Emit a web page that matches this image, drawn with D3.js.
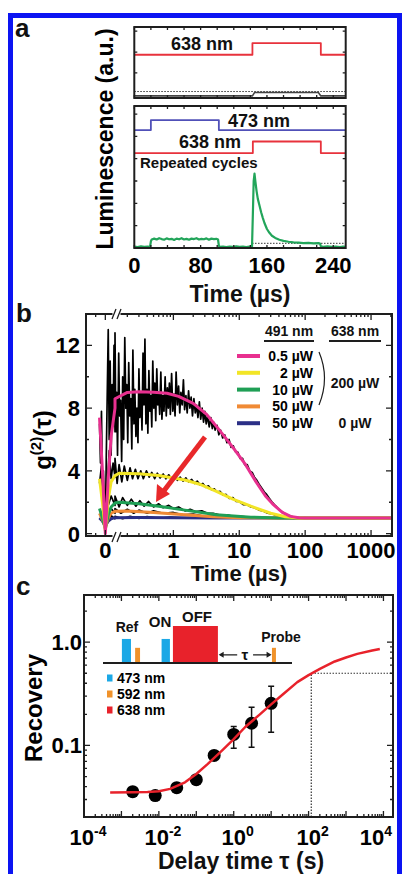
<!DOCTYPE html>
<html>
<head>
<meta charset="utf-8">
<script src="https://cdn.jsdelivr.net/npm/d3@7"></script>
<style>
body { margin: 0; background: #fff; }
svg { display: block; font-family: "Liberation Sans", Arial, sans-serif; font-weight: bold; }
</style>
</head>
<body>
<div id="chart"></div>
<script>
// ---------- panel a : luminescence vs time (us) ----------
var aTimeTicks = [0, 80, 160, 240];
var a1Laser638 = [[0, 1.87], [142.5, 1.87], [142.5, 2.43], [225, 2.43], [225, 1.87], [255, 1.87]];
var a1Signal = [[0, -0.1], [142.5, -0.1], [145, 0.06], [222, 0.06], [225, -0.1], [255, -0.1]];
var a1Level = [[0, 0.11], [255, 0.11]];
var a2Laser473 = [[0, 5.28], [20, 5.28], [20, 5.73], [102, 5.73], [102, 5.28], [255, 5.28]];
var a2Laser638 = [[0, 4.25], [143, 4.25], [143, 4.77], [225, 4.77], [225, 4.25], [255, 4.25]];
var a2Signal = [[0,0.06],[4,0.04],[8,0.07],[12,0.05],[16,0.06],[19,0.05],[20,0.3],[21,0.38],[24,0.42],[27,0.38],
  [30,0.44],[33,0.4],[36,0.37],[39,0.43],[42,0.39],[45,0.41],[48,0.36],[51,0.42],[54,0.39],[57,0.44],[60,0.38],
  [63,0.41],[66,0.37],[69,0.42],[72,0.4],[75,0.44],[78,0.38],[81,0.41],[84,0.39],[87,0.43],[90,0.37],[93,0.42],
  [96,0.4],[99,0.41],[101,0.38],[102,0.1],[103,0.05],[107,0.06],[111,0.04],[115,0.06],[119,0.05],[123,0.07],
  [127,0.05],[131,0.06],[135,0.04],[139,0.06],[142,0.06],[143,1.5],[144,3.0],[145,3.33],[146,3.0],[147.5,2.55],
  [149,2.2],[151,1.9],[153,1.6],[155,1.35],[157,1.12],[160,0.85],[163,0.68],[166,0.55],[170,0.45],[175,0.37],
  [180,0.32],[186,0.28],[192,0.25],[198,0.24],[204,0.22],[210,0.23],[216,0.21],[222,0.22],[224,0.2],[225,0.08],
  [228,0.05],[233,0.07],[238,0.05],[243,0.06],[248,0.04],[252,0.06],[255,0.05]];
var a2Level = [[142, 0.21], [255, 0.21]];

// ---------- panel b : g2(tau) ----------
var bTimeTicks = [0, 1, 10, 100, 1000];
var bYTicks = [0, 4, 8, 12];
var bPowers = ["0.5 µW", "2 µW", "10 µW", "50 µW", "50 µW"];
var bColors = ["#e8308f", "#f2e526", "#1f9f55", "#f08a35", "#2b2f86"];
var bRaw05 = [[-0.06,7.0],[-0.05,4.5],[-0.04,7.8],[-0.03,3.0],[-0.02,4.0],[-0.01,1.5],[0,0.2],[0.01,5.0],
  [0.02,9.0],[0.03,13.0],[0.04,6.0],[0.05,11.0],[0.06,5.0],[0.07,9.5],[0.08,7.0],[0.09,12.0],[0.1,6.5],
  [0.13,12.8],[0.134,6.5],[0.138,9.0],[0.142,5.0],[0.148,11.5],[0.153,7.5],[0.158,8.5],[0.164,4.6],[0.17,10.0],
  [0.176,6.0],[0.183,12.5],[0.19,8.0],[0.196,9.5],[0.203,5.8],[0.21,10.9],[0.218,7.5],[0.226,8.6],[0.234,5.4],
  [0.243,11.7],[0.252,7.0],[0.26,9.2],[0.27,6.2],[0.28,8.0],[0.29,5.8],[0.3,10.5],[0.31,7.4],[0.322,9.0],
  [0.334,6.6],[0.346,11.5],[0.358,8.2],[0.37,12.4],[0.383,7.0],[0.397,9.2],[0.41,6.4],[0.425,10.4],[0.44,7.8],
  [0.455,8.8],[0.47,6.8],[0.487,11.0],[0.505,8.0],[0.523,9.6],[0.54,7.2],[0.56,10.5],[0.58,8.2],[0.6,9.0],
  [0.62,7.6],[0.645,10.3],[0.67,7.3],[0.695,8.8],[0.72,7.8],[0.75,10.0],[0.78,7.5],[0.81,9.3],[0.84,8.0],
  [0.87,9.6],[0.9,7.6],[0.94,10.2],[0.98,7.8],[1.02,8.9],[1.06,7.5],[1.1,10.3],[1.15,8.2],[1.2,9.4],[1.25,7.7],
  [1.3,9.0],[1.36,8.2],[1.42,9.8],[1.48,7.9],[1.55,8.8],[1.62,7.7],[1.7,9.1],[1.78,8.0],[1.86,8.7],[1.95,7.5],
  [2.05,8.6],[2.15,7.7],[2.25,8.2],[2.36,7.4],[2.48,8.4],[2.6,7.3],[2.73,8.0],[2.87,7.1],[3.0,7.8],[3.15,7.0],
  [3.3,7.5],[3.5,6.8],[3.7,7.4],[3.9,6.7],[4.1,7.1],[4.3,6.6],[4.6,6.9],[4.9,6.3],[5.2,6.6],[5.6,6.1],[6.0,6.3],
  [6.5,5.8],[7.0,6.0],[7.5,5.5],[8.1,5.6],[8.8,5.2],[9.5,5.2],[10.3,4.8],[11.2,4.8],[12.1,4.4],[13.2,4.4],
  [14.4,4.0],[15.7,3.9],[17,3.6],[18.5,3.4],[20,3.15],[22,2.9],[24,2.65],[26,2.5],[28.5,2.25],[31,2.05],[34,1.85],
  [37,1.7],[40,1.55],[44,1.42],[48,1.3],[53,1.2],[58,1.14],[65,1.07],[72,1.04],[80,1.0],[100,1.02],[130,0.99],
  [170,1.01],[220,1.0],[300,1.0],[500,1.0],[1000,1.0],[2000,1.0]];
var bRaw2 = [[-0.06,3.2],[-0.04,4.3],[-0.02,2.0],[0,0.2],[0.02,3.0],[0.04,5.3],[0.06,3.5],[0.08,4.5],[0.1,3.6],
  [0.13,4.8],[0.14,3.2],[0.15,4.4],[0.165,3.3],[0.18,4.3],[0.2,3.4],[0.22,4.2],[0.24,3.5],[0.265,4.1],[0.29,3.5],
  [0.32,4.0],[0.35,3.5],[0.39,4.0],[0.43,3.6],[0.47,3.9],[0.52,3.5],[0.57,3.85],[0.63,3.55],[0.7,3.8],[0.77,3.5],
  [0.85,3.75],[0.94,3.45],[1.04,3.7],[1.15,3.4],[1.27,3.6],[1.4,3.35],[1.55,3.55],[1.7,3.3],[1.9,3.45],[2.1,3.2],
  [2.3,3.35],[2.55,3.1],[2.8,3.2],[3.1,2.95],[3.4,3.05],[3.8,2.8],[4.2,2.85],[4.6,2.65],[5.1,2.7],[5.7,2.45],
  [6.3,2.5],[7,2.25],[8,2.3],[9,2.05],[10,2.05],[11.5,1.85],[13,1.85],[15,1.7],[17,1.65],[20,1.5],[23,1.45],
  [27,1.3],[32,1.25],[38,1.12],[45,1.1],[55,1.03],[70,1.0],[100,1.0],[2000,1.0]];
var bRaw10 = [[-0.06,1.5],[-0.03,1.2],[0,0.3],[0.03,1.8],[0.06,2.4],[0.1,1.8],[0.13,2.4],[0.15,1.7],[0.17,2.3],
  [0.2,1.8],[0.23,2.2],[0.27,1.75],[0.31,2.1],[0.36,1.75],[0.42,2.05],[0.5,1.7],[0.6,1.9],[0.7,1.65],[0.85,1.8],
  [1,1.6],[1.2,1.7],[1.5,1.45],[1.8,1.55],[2.2,1.4],[2.7,1.45],[3.3,1.3],[4,1.3],[5,1.2],[6.5,1.2],[8,1.1],
  [10,1.1],[14,1.05],[20,1.04],[30,1.0],[2000,1.0]];
var bRaw50a = [[-0.06,1.2],[-0.03,1.0],[0,0.4],[0.03,1.1],[0.06,1.6],[0.1,1.3],[0.13,1.6],[0.16,1.3],[0.2,1.55],
  [0.25,1.3],[0.3,1.5],[0.4,1.3],[0.5,1.45],[0.7,1.3],[1,1.35],[1.4,1.2],[2,1.25],[3,1.1],[4,1.12],[6,1.05],
  [10,1.03],[20,1.0],[2000,1.0]];
var bRaw50b = [[-0.06,1.0],[-0.03,0.9],[0,0.5],[0.03,0.9],[0.06,1.15],[0.1,0.95],[0.13,1.1],[0.17,0.95],
  [0.22,1.1],[0.3,0.97],[0.4,1.08],[0.6,0.98],[0.9,1.06],[1.5,0.99],[3,1.03],[10,1.0],[2000,1.0]];
var bFit05 = [[-0.06,7.4],[-0.03,4.0],[0,0.0],[0.03,3.5],[0.06,6.2],[0.1,8.0],[0.13,8.6],[0.2,9.0],[0.3,9.05],
  [0.5,9.02],[0.8,8.95],[1.2,8.75],[2,8.3],[3.2,7.6],[5,6.6],[8,5.5],[12,4.5],[18,3.3],[25,2.4],[32,1.9],
  [45,1.35],[60,1.1],[80,1.02],[100,1.0],[2000,1.0]];
var bFit2 = [[-0.06,3.5],[-0.03,2.0],[0,0.2],[0.03,2.2],[0.06,3.3],[0.1,3.7],[0.15,3.85],[0.3,3.82],[0.6,3.7],
  [1,3.55],[1.5,3.42],[2.5,3.15],[4.5,2.7],[8,2.2],[15,1.75],[30,1.3],[50,1.08],[80,1.0],[2000,1.0]];
var bFit10 = [[-0.06,1.6],[-0.03,1.0],[0,0.3],[0.03,1.2],[0.06,1.7],[0.1,1.95],[0.15,2.0],[0.3,1.9],[0.6,1.75],
  [1.5,1.5],[4.5,1.2],[15,1.05],[40,1.0],[2000,1.0]];
var bFit50a = [[-0.06,1.3],[-0.03,0.9],[0,0.4],[0.03,1.0],[0.06,1.3],[0.1,1.42],[0.2,1.45],[0.5,1.35],[1.5,1.2],
  [4,1.08],[10,1.02],[30,1.0],[2000,1.0]];
var bFit50b = [[-0.06,1.0],[-0.03,0.8],[0,0.5],[0.03,0.8],[0.06,0.95],[0.1,1.02],[0.3,1.03],[1,1.02],[5,1.0],[2000,1.0]];

// ---------- panel c : recovery vs delay time ----------
var cDelay = [0.002, 0.008, 0.03, 0.1, 0.3, 1, 3, 10];
var cRecovery = [0.0357, 0.0327, 0.039, 0.0466, 0.080, 0.128, 0.164, 0.256];
var cErrLow = [0.034, 0.031, 0.037, 0.044, 0.076, 0.094, 0.096, 0.134];
var cErrHigh = [0.037, 0.034, 0.041, 0.049, 0.084, 0.153, 0.234, 0.374];
var cFitDelay = [0.0005, 0.002, 0.005, 0.01, 0.02, 0.05, 0.1, 0.2, 0.5, 1, 2, 5, 10, 20, 50, 100, 200, 500, 1000, 2000, 5000, 8000];
var cFitRecovery = [0.035, 0.0352, 0.0355, 0.036, 0.038, 0.044, 0.053, 0.066, 0.09, 0.115, 0.15, 0.2, 0.25, 0.31, 0.41, 0.48, 0.55, 0.65, 0.71, 0.77, 0.83, 0.86];
var cHalfTime = 118, cHalfLevel = 0.5;
var cXTickExp = [-4, -2, 0, 2, 4];
var cYTicks = [0.1, 1];
// inset: pulse sequence (schematic units)
var pulseNames = ["Ref", "Ref", "ON", "OFF", "Probe"];
var pulseStart = [10, 17, 31, 37, 89.4];
var pulseEnd = [14.8, 19.6, 35.4, 60.8, 91.5];
var pulseHeight = [0.65, 0.41, 0.65, 1.0, 0.41];
var pulseWave = ["473", "592", "473", "638", "592"];
var waveNames = ["473 nm", "592 nm", "638 nm"];
var waveColors = { "473": "#1ba8e6", "592": "#f0922a", "638": "#e8222b" };

var W = 402, H = 874;
var svg = d3.select("#chart").append("svg").attr("width", W).attr("height", H);
var ink = "#1e1e1e";

// blue border of the figure
svg.append("rect").attr("x", 10.5).attr("y", 15.5).attr("width", 389).attr("height", 900)
  .attr("fill", "none").attr("stroke", "#0c14f2").attr("stroke-width", 5);

function frame(x0, y0, x1, y1) {
  svg.append("rect").attr("x", x0).attr("y", y0).attr("width", x1 - x0).attr("height", y1 - y0)
    .attr("fill", "none").attr("stroke", ink).attr("stroke-width", 2);
}
function xTicks(xs, vals, yTop, yBot, len) {
  svg.append("g").selectAll("path").data(vals).enter().append("path")
    .attr("d", d => `M${xs(d)},${yBot}v${-len}M${xs(d)},${yTop}v${len}`)
    .attr("stroke", ink).attr("stroke-width", 1.3);
}
function yTicks(ys, vals, xLeft, xRight, len) {
  svg.append("g").selectAll("path").data(vals).enter().append("path")
    .attr("d", d => `M${xLeft},${ys(d)}h${len}M${xRight},${ys(d)}h${-len}`)
    .attr("stroke", ink).attr("stroke-width", 1.3);
}
function label(x, y, txt, size, anchor) {
  return svg.append("text").attr("x", x).attr("y", y).attr("font-size", size)
    .attr("text-anchor", anchor || "start").attr("fill", "#111").text(txt);
}
function trace(data, xs, ys, color, width, dash) {
  var line = d3.line().x(d => xs(d[0])).y(d => ys(d[1]));
  var p = svg.append("path").datum(data).attr("d", line).attr("fill", "none")
    .attr("stroke", color).attr("stroke-width", width).attr("stroke-linejoin", "round");
  if (dash) p.attr("stroke-dasharray", dash);
  return p;
}
function isDecade(d) { return Math.abs(Math.log10(d) - Math.round(Math.log10(d))) < 0.01; }

// ================= panel a =================
var ax = d3.scaleLinear().domain([0, 255]).range([134.3, 345.7]);
var ay1 = d3.scaleLinear().domain([-0.2, 3.2]).range([98, 27]);
var ay2 = d3.scaleLinear().domain([0, 6.36]).range([248, 106]);
var aMinor = d3.range(0, 256, 20);

trace(a1Level, ax, ay1, "#333", 1, "1.5,1.5");
trace(a1Signal, ax, ay1, "#444", 1.6);
trace(a1Laser638, ax, ay1, "#e8323c", 1.8);
trace(a2Level, ax, ay2, "#333", 1, "1.5,1.5");
trace(a2Laser473, ax, ay2, "#5050b8", 1.8);
trace(a2Laser638, ax, ay2, "#e8323c", 1.8);
trace(a2Signal, ax, ay2, "#22a55a", 2.2);

frame(134.3, 27, 345.7, 98);
frame(134.3, 106, 345.7, 248);
xTicks(ax, aMinor, 27, 98, 3);
xTicks(ax, aMinor, 106, 248, 3);
yTicks(ay1, [1, 2, 3], 134.3, 345.7, 3);
yTicks(ay2, [1, 2, 3, 4, 5, 6], 134.3, 345.7, 3);

label(171, 50, "638 nm", 18);
label(228, 127, "473 nm", 18);
label(179, 148, "638 nm", 18);
label(140, 168, "Repeated cycles", 15);
svg.append("g").selectAll("text").data(aTimeTicks).enter().append("text")
  .attr("x", d => ax(d)).attr("y", 273).attr("font-size", 22).attr("text-anchor", "middle").text(d => d);
label(240, 302, "Time (µs)", 23, "middle");
svg.append("text").attr("transform", "translate(113,139) rotate(-90)").attr("font-size", 23)
  .attr("text-anchor", "middle").text("Luminescence (a.u.)");
label(15, 37, "a", 26);

// ================= panel b =================
var bLin = d3.scaleLinear().domain([-0.2, 0.1]).range([86, 115]);
var bLog = d3.scaleLog().domain([0.13, 2080]).range([115, 392]);
function bx(t) { return t <= 0.1 ? bLin(t) : bLog(t); }
var by = d3.scaleLinear().domain([-0.15, 14]).range([536, 314]);

[bRaw50b, bRaw50a, bRaw10, bRaw2, bRaw05].forEach(function(d) { trace(d, bx, by, "#000", 1.7); });
[bFit50b, bFit50a, bFit10, bFit2, bFit05].forEach(function(d, i) { trace(d, bx, by, bColors[4 - i], 3); });

frame(86, 314, 392, 536);
var bLogTicks = bLog.ticks();
xTicks(bLog, bLogTicks.filter(d => !isDecade(d)), 314, 536, 3);
xTicks(bLog, [1, 10, 100, 1000], 314, 536, 6);
xTicks(bLin, [-0.1], 314, 536, 3);
xTicks(bLin, [0], 314, 536, 6);
yTicks(by, [2, 6, 10, 14], 86, 392, 3);
yTicks(by, bYTicks, 86, 392, 6);

// axis break marks
[[309, 319], [532, 542]].forEach(function(r) {
  svg.append("rect").attr("x", 112.5).attr("y", r[0]).attr("width", 8).attr("height", r[1] - r[0]).attr("fill", "#fff");
  svg.append("path").attr("d", `M112,${r[1]}L116,${r[0]}M117,${r[1]}L121,${r[0]}`)
    .attr("stroke", ink).attr("stroke-width", 1.3);
});

// red arrow
svg.append("path").attr("d", "M205,437L163,492").attr("stroke", "#e8282a").attr("stroke-width", 5);
svg.append("path").attr("d", "M156,502L157,484L170,494Z").attr("fill", "#e8282a");

// legend
label(289, 336, "491 nm", 14, "middle");
label(355, 336, "638 nm", 14, "middle");
svg.append("path").attr("d", "M264,341H314M329,341H381").attr("stroke", ink).attr("stroke-width", 2);
var legRows = svg.append("g").selectAll("g").data(bPowers).enter().append("g")
  .attr("transform", (d, i) => `translate(0,${356 + i * 16.8})`);
legRows.append("path").attr("d", "M237,0H260").attr("stroke", (d, i) => bColors[i]).attr("stroke-width", 4);
legRows.append("text").attr("x", 313).attr("y", 5).attr("font-size", 14).attr("text-anchor", "end").text(d => d);
svg.append("path").attr("d", "M319,352Q330,378 319,405").attr("fill", "none").attr("stroke", ink).attr("stroke-width", 1.2);
label(355, 388, "200 µW", 14, "middle");
label(355, 428, "0 µW", 14, "middle");

svg.append("g").selectAll("text").data(bTimeTicks).enter().append("text")
  .attr("x", d => bx(d)).attr("y", 558).attr("font-size", 22).attr("text-anchor", "middle").text(d => d);
svg.append("g").selectAll("text").data(bYTicks).enter().append("text")
  .attr("x", 80).attr("y", d => by(d) + 8).attr("font-size", 22).attr("text-anchor", "end").text(d => d);
label(239, 581, "Time (µs)", 22, "middle");
var gLab = svg.append("text").attr("transform", "translate(51,440) rotate(-90)").attr("font-size", 24).attr("text-anchor", "middle");
gLab.append("tspan").text("g");
gLab.append("tspan").attr("font-size", 15).attr("dy", -10).text("(2)");
gLab.append("tspan").attr("dy", 10).text("(τ)");
label(16, 322, "b", 26);

// ================= panel c =================
var cx = d3.scaleLog().domain([1e-4, 1.8e4]).range([84, 393]);
var cy = d3.scaleLog().domain([0.0203, 2.86]).range([817, 595]);

// dotted half-recovery guide
svg.append("path").attr("d", `M${cx(cHalfTime)},817V${cy(cHalfLevel)}H393`).attr("fill", "none")
  .attr("stroke", "#333").attr("stroke-width", 1.2).attr("stroke-dasharray", "1.5,1.5");

svg.append("g").selectAll("path").data(cDelay).enter().append("path")
  .attr("d", (d, i) => `M${cx(d)},${cy(cErrLow[i])}V${cy(cErrHigh[i])}M${cx(d) - 3},${cy(cErrLow[i])}h6M${cx(d) - 3},${cy(cErrHigh[i])}h6`)
  .attr("stroke", "#111").attr("stroke-width", 1.5);
svg.append("g").selectAll("circle").data(cDelay).enter().append("circle")
  .attr("cx", d => cx(d)).attr("cy", (d, i) => cy(cRecovery[i])).attr("r", 6.5).attr("fill", "#000");
trace(cFitDelay.map((d, i) => [d, cFitRecovery[i]]), cx, cy, "#e8222b", 2.5);

frame(84, 595, 393, 817);
var cxt = cx.ticks();
xTicks(cx, cxt.filter(d => !isDecade(d)), 595, 817, 3);
xTicks(cx, cxt.filter(isDecade), 595, 817, 6);
var cyt = cy.ticks();
yTicks(cy, cyt.filter(d => !isDecade(d)), 84, 393, 3);
yTicks(cy, cYTicks, 84, 393, 6);

var cxl = svg.append("g").selectAll("text").data(cXTickExp).enter().append("text")
  .attr("x", d => Math.min(cx(Math.pow(10, d)) + 4, 376)).attr("y", 845).attr("font-size", 22).attr("text-anchor", "middle");
cxl.append("tspan").text("10");
cxl.append("tspan").attr("font-size", 14).attr("dy", -9).text(d => d);
svg.append("g").selectAll("text").data(cYTicks).enter().append("text")
  .attr("x", 82).attr("y", d => cy(d) + 8).attr("font-size", 22).attr("text-anchor", "end").text(d => d.toFixed(1));
label(241, 869, "Delay time τ (s)", 23, "middle");
svg.append("text").attr("transform", "translate(42,708) rotate(-90)").attr("font-size", 24)
  .attr("text-anchor", "middle").text("Recovery");
label(16, 595, "c", 26);

// inset: pulse sequence
var ix = d3.scaleLinear().domain([0, 100]).range([103, 292]);
var iy = d3.scaleLinear().domain([0, 1]).range([663, 626]);
svg.append("g").selectAll("rect").data(pulseStart).enter().append("rect")
  .attr("x", d => ix(d)).attr("y", (d, i) => iy(pulseHeight[i]))
  .attr("width", (d, i) => ix(pulseEnd[i]) - ix(d)).attr("height", (d, i) => iy(0) - iy(pulseHeight[i]))
  .attr("fill", (d, i) => waveColors[pulseWave[i]]);
svg.append("path").attr("d", `M${ix(0)},${iy(0)}H${ix(100)}`).attr("stroke", ink).attr("stroke-width", 2);
svg.append("path").attr("d", `M${ix(71)},${iy(0.22)}H${ix(62)}M${ix(79.4)},${iy(0.22)}H${ix(88.4)}`)
  .attr("stroke", ink).attr("stroke-width", 1.3);
svg.append("path").attr("d", `M${ix(61.2)},${iy(0.22)}l5,-3v6Z M${ix(89.2)},${iy(0.22)}l-5,-3v6Z`).attr("fill", ink);
label(ix(75), iy(0.22) + 5, "τ", 15, "middle");
label(127, 632, "Ref", 14, "middle");
label(160, 627, "ON", 15, "middle");
label(197, 622, "OFF", 15, "middle");
label(281, 642, "Probe", 14, "middle");
var cLeg = svg.append("g").selectAll("g").data(waveNames).enter().append("g")
  .attr("transform", (d, i) => `translate(107,${678 + i * 16})`);
cLeg.append("rect").attr("x", 0).attr("y", -3.5).attr("width", 5.5).attr("height", 7)
  .attr("fill", d => waveColors[d.slice(0, 3)]);
cLeg.append("text").attr("x", 10).attr("y", 5).attr("font-size", 14).text(d => d);
</script>
</body>
</html>
